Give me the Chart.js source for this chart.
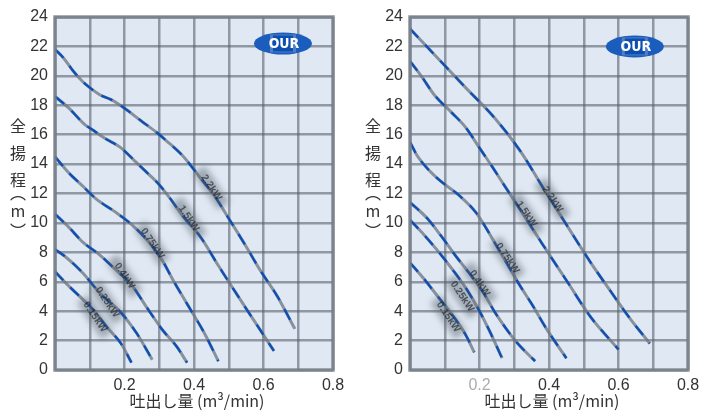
<!DOCTYPE html>
<html>
<head>
<meta charset="utf-8">
<script src="https://cdn.jsdelivr.net/npm/chart.js@4.4.0/dist/chart.umd.min.js"></script>
<style>
  html, body { margin: 0; padding: 0; background: #fff; }
  #wrap { display: flex; width: 709px; height: 416px; }
  .box { position: relative; height: 416px; }
</style>
</head>
<body>
<div id="wrap">
  <div class="box" style="width:354px"><canvas id="leftChart"></canvas></div>
  <div class="box" style="width:355px"><canvas id="rightChart"></canvas></div>
</div>
<script>
// flow (m3/min), head (m)
const leftCurve1 = [[0,21.8],[0.025,21.2],[0.05,20.4],[0.08,19.6],[0.1,19.2],[0.13,18.7],[0.16,18.4],[0.2,17.8],[0.25,16.9],[0.29,16.2],[0.32,15.6],[0.37,14.5],[0.42,13.0],[0.46,11.8],[0.5,10.3],[0.55,8.4],[0.59,6.8],[0.64,5.0],[0.69,2.8]];
const leftCurve2 = [[0,18.6],[0.04,17.8],[0.085,16.7],[0.11,16.3],[0.14,15.8],[0.19,15.1],[0.23,14.2],[0.27,13.3],[0.3,12.6],[0.33,11.7],[0.37,10.4],[0.42,9.0],[0.47,7.1],[0.53,4.9],[0.58,3.1],[0.63,1.3]];
const leftCurve3 = [[0,14.5],[0.04,13.4],[0.08,12.5],[0.12,11.6],[0.17,10.8],[0.22,9.9],[0.27,8.7],[0.31,7.4],[0.34,6.1],[0.38,4.5],[0.43,2.5],[0.47,0.6]];
const leftCurve4 = [[0,10.6],[0.04,9.7],[0.08,8.7],[0.13,7.8],[0.18,6.7],[0.22,5.8],[0.26,4.4],[0.31,2.7],[0.35,1.6],[0.38,0.5]];
const leftCurve5 = [[0,8.2],[0.03,7.7],[0.08,6.6],[0.13,5.2],[0.19,3.9],[0.235,2.5],[0.28,0.7]];
const leftCurve6 = [[0,6.7],[0.04,5.7],[0.08,4.8],[0.11,4.1],[0.15,2.9],[0.19,1.8],[0.22,0.5]];

const rightCurve1 = [[0,23.2],[0.04,22.2],[0.08,21.2],[0.16,19.2],[0.245,17.1],[0.32,14.8],[0.38,12.5],[0.455,9.7],[0.52,7.3],[0.57,5.6],[0.63,3.6],[0.69,1.8]];
const rightCurve2 = [[0,21.0],[0.035,19.9],[0.07,18.7],[0.12,17.5],[0.16,16.5],[0.2,15.1],[0.24,13.7],[0.27,12.6],[0.32,10.8],[0.38,8.6],[0.45,6.1],[0.52,3.6],[0.57,2.2],[0.6,1.4]];
const rightCurve3 = [[0,15.5],[0.02,14.6],[0.05,13.7],[0.09,12.8],[0.14,11.9],[0.19,10.7],[0.26,8.0],[0.32,5.6],[0.35,4.5],[0.39,2.9],[0.45,0.8]];
const rightCurve4 = [[0,11.4],[0.05,10.3],[0.09,9.1],[0.13,7.8],[0.17,6.6],[0.21,5.3],[0.245,3.9],[0.28,2.7],[0.31,1.8],[0.36,0.6]];
const rightCurve5 = [[0,10.2],[0.04,9.2],[0.08,8.1],[0.12,6.9],[0.16,5.6],[0.2,4.0],[0.23,2.6],[0.265,0.8]];
const rightCurve6 = [[0,7.3],[0.04,6.2],[0.08,5.0],[0.12,3.8],[0.16,2.4],[0.185,1.2]];

// motor labels sitting on the curves: text, flow, head
const leftLabels = [['2.2kW',0.45,12.4],['1.5kW',0.385,10.3],['0.75kW',0.28,8.6],['0.4kW',0.2,6.4],['0.25kW',0.15,4.6],['0.15kW',0.115,3.6]];
const rightLabels = [['2.2kW',0.41,11.6],['1.5kW',0.335,10.6],['0.75kW',0.28,7.6],['0.4kW',0.2,5.9],['0.25kW',0.15,5.0],['0.15kW',0.11,3.6]];

const xTickValues = [0.2, 0.4, 0.6, 0.8];
const xTickText = ['0.2', '0.4', '0.6', '0.8'];
const yTitleChars = ['全', '揚', '程'];
const xTitle = '吐出し量 (m³/min)';
const logoText = 'OUR';

const tickFont = { family: 'Liberation Sans, Arial, sans-serif', size: 16 };

function curveSets(curves) {
  const sets = [];
  curves.forEach(c => {
    const pts = c.map(p => ({ x: p[0], y: p[1] }));
    // grey line underneath, blue dashes on top
    sets.push({ data: pts, borderColor: 'rgba(105,115,128,0.75)', borderWidth: 3, pointRadius: 0, cubicInterpolationMode: 'monotone', order: 2 });
    sets.push({ data: pts, borderColor: '#0c4fb6', borderWidth: 2.3, borderDash: [12, 10], pointRadius: 0, cubicInterpolationMode: 'monotone', order: 1 });
  });
  return sets;
}

const decor = {
  id: 'decor',
  beforeDraw(chart) {
    const a = chart.chartArea, ctx = chart.ctx;
    ctx.save();
    ctx.fillStyle = '#e0e9f3';
    ctx.fillRect(a.left, a.top, a.right - a.left, a.bottom - a.top);
    ctx.restore();
  },
  afterDatasetsDraw(chart, args, opts) {
    const a = chart.chartArea, ctx = chart.ctx;
    const xs = chart.scales.x, ys = chart.scales.y;
    // motor labels
    opts.labels.forEach(l => {
      const x = xs.getPixelForValue(l[1]), y = ys.getPixelForValue(l[2]);
      ctx.save();
      ctx.translate(x, y);
      ctx.rotate(56 * Math.PI / 180);
      ctx.filter = 'blur(3px)';
      ctx.fillStyle = 'rgba(80,90,102,0.45)';
      ctx.fillRect(-22, -7, 44, 14);
      ctx.filter = 'none';
      ctx.fillStyle = 'rgba(35,40,48,0.7)';
      ctx.font = 'bold 10px Liberation Sans, Arial, sans-serif';
      ctx.textAlign = 'center';
      ctx.textBaseline = 'middle';
      ctx.fillText(l[0], 0, 0);
      ctx.restore();
    });
    // logo
    const lx = xs.getPixelForValue(opts.logo[0]), ly = ys.getPixelForValue(opts.logo[1]);
    ctx.save();
    ctx.filter = 'blur(0.6px)';
    ctx.fillStyle = '#1a5dbd';
    ctx.beginPath();
    ctx.ellipse(lx, ly, 29, 11, 0, 0, Math.PI * 2);
    ctx.fill();
    ctx.fillStyle = 'rgba(120,150,200,0.6)';
    ctx.fillRect(lx - 13, ly - 9, 26, 18);
    ctx.fillStyle = '#0c4fb0';
    ctx.fillRect(lx - 10, ly - 8, 20, 16);
    ctx.fillStyle = '#fff';
    ctx.font = 'bold 14px DejaVu Sans Condensed, sans-serif';
    ctx.textAlign = 'center';
    ctx.textBaseline = 'middle';
    ctx.fillText(logoText, lx + 1, ly + 1);
    ctx.restore();
    // frame
    ctx.save();
    ctx.strokeStyle = 'rgba(120,128,138,0.85)';
    ctx.lineWidth = 3.5;
    ctx.strokeRect(a.left, a.top, a.right - a.left, a.bottom - a.top);
    ctx.restore();
  },
  afterDraw(chart) {
    const a = chart.chartArea, ctx = chart.ctx;
    ctx.save();
    ctx.fillStyle = '#333';
    ctx.textAlign = 'center';
    ctx.textBaseline = 'middle';
    ctx.font = '16px Noto Sans CJK JP, sans-serif';
    const tx = a.left - 37;
    yTitleChars.forEach((c, i) => ctx.fillText(c, tx, 126 + i * 27));
    ctx.fillText('︵', tx, 193);
    ctx.fillText('m', tx, 211);
    ctx.fillText('︶', tx, 231);
    ctx.fillText(xTitle, (a.left + a.right) / 2 + 3, 401);
    ctx.restore();
  }
};

function makeChart(id, curves, labels, logo, side) {
  return new Chart(document.getElementById(id), {
    type: 'line',
    data: { datasets: curveSets(curves) },
    plugins: [decor],
    options: {
      responsive: true,
      maintainAspectRatio: false,
      animation: false,
      layout: { padding: { left: 0, top: 17, right: 21, bottom: 0 } },
      plugins: {
        legend: { display: false },
        tooltip: { enabled: false },
        decor: { labels: labels, logo: logo }
      },
      scales: {
        x: {
          type: 'linear', min: 0, max: 0.8,
          afterFit: s => { s.height = 46; },
          grid: { color: 'rgba(88,98,110,0.6)', lineWidth: 2.5, drawTicks: false },
          border: { display: false },
          ticks: {
            stepSize: 0.1, autoSkip: false, maxRotation: 0, padding: 6,
            font: tickFont,
            color: c => (side === 'right' && Math.abs(c.tick.value - 0.2) < 1e-6) ? '#a8adb3' : '#333',
            callback: v => {
              const i = xTickValues.findIndex(t => Math.abs(t - v) < 1e-6);
              return i < 0 ? '' : xTickText[i];
            }
          }
        },
        y: {
          type: 'linear', min: 0, max: 24,
          afterFit: s => { s.width = side === 'left' ? 55 : 56; },
          grid: { color: 'rgba(88,98,110,0.6)', lineWidth: 2.5, drawTicks: false },
          border: { display: false },
          ticks: { stepSize: 2, padding: 7, font: tickFont, color: '#333' }
        }
      }
    }
  });
}

makeChart('leftChart', [leftCurve1, leftCurve2, leftCurve3, leftCurve4, leftCurve5, leftCurve6], leftLabels, [0.656, 22.2], 'left');
makeChart('rightChart', [rightCurve1, rightCurve2, rightCurve3, rightCurve4, rightCurve5, rightCurve6], rightLabels, [0.647, 22.0], 'right');
</script>
</body>
</html>
